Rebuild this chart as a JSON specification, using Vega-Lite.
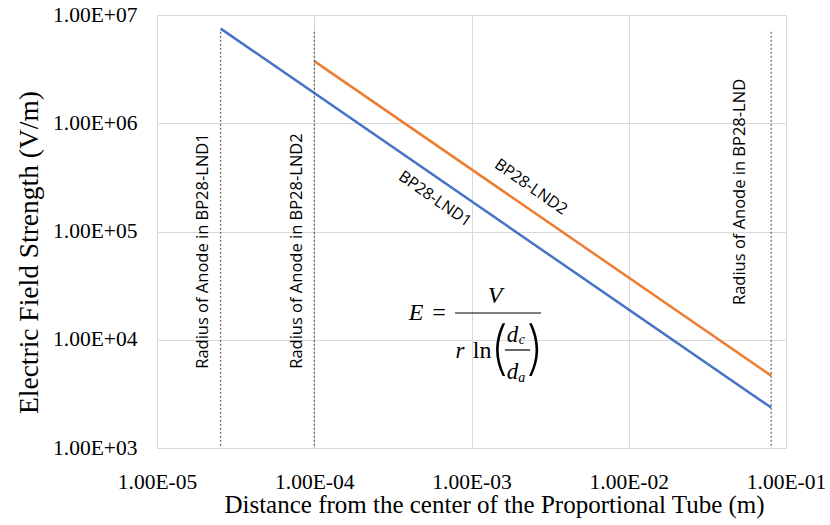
{
  "$schema": "https://vega.github.io/schema/vega-lite/v6.json",
  "width": 629,
  "height": 433,
  "autosize": "none",
  "padding": {"left": 157, "top": 15, "right": 44, "bottom": 77},
  "background": "white",
  "config": {"view": {"stroke": "#d9d9d9"}, "font": "Liberation Serif"},
  "layer": [
    {
      "data": {"values": [
        {"series": "BP28-LND1", "r": 2.54e-5, "E": 7480000},
        {"series": "BP28-LND1", "r": 0.0804, "E": 2363},
        {"series": "BP28-LND2", "r": 1e-4, "E": 3750000},
        {"series": "BP28-LND2", "r": 0.0804, "E": 4664}
      ]},
      "mark": {"type": "line", "strokeWidth": 2.5},
      "encoding": {
        "x": {"field": "r", "type": "quantitative",
          "scale": {"type": "log", "domain": [1e-5, 0.1], "nice": false},
          "axis": {"values": [1e-5, 1e-4, 1e-3, 1e-2, 1e-1],
            "labelExpr": "'1.00E' + (round(log(datum.value)/LN10) < 0 ? '-' : '+') + '0' + abs(round(log(datum.value)/LN10))",
            "title": "Distance from the center of the Proportional Tube (m)",
            "grid": true, "gridColor": "#d9d9d9", "ticks": false, "domain": false,
            "labelFont": "Liberation Serif", "labelFontSize": 21.5, "labelColor": "#000",
            "labelFlush": false, "labelOverlap": false, "labelPadding": 23,
            "titleFont": "Liberation Serif", "titleFontSize": 25, "titleFontWeight": "normal",
            "titleColor": "#000", "titlePadding": 0, "titleX": 337, "titleAlign": "center", "titleAnchor": null}},
        "y": {"field": "E", "type": "quantitative",
          "scale": {"type": "log", "domain": [1000, 10000000], "nice": false},
          "axis": {"values": [1000, 10000, 100000, 1000000, 10000000],
            "labelExpr": "'1.00E' + (round(log(datum.value)/LN10) < 0 ? '-' : '+') + '0' + abs(round(log(datum.value)/LN10))",
            "title": "Electric Field Strength (V/m)",
            "grid": true, "gridColor": "#d9d9d9", "ticks": false, "domain": false,
            "labelFont": "Liberation Serif", "labelFontSize": 21.5, "labelColor": "#000",
            "labelFlush": false, "labelOverlap": false, "labelPadding": 20,
            "titleFont": "Liberation Serif", "titleFontSize": 27.5, "titleFontWeight": "normal",
            "titleColor": "#000", "titlePadding": 9, "titleY": 237, "titleAlign": "center", "titleAnchor": null}},
        "color": {"field": "series", "type": "nominal",
          "scale": {"domain": ["BP28-LND1", "BP28-LND2"], "range": ["#4472C4", "#ED7D31"]},
          "legend": null}
      }
    },
    {
      "data": {"values": [
        {"r": 2.54e-5, "top": 7000000, "bottom": 1000},
        {"r": 1e-4, "top": 7000000, "bottom": 1000},
        {"r": 0.0804, "top": 7000000, "bottom": 1000}
      ]},
      "mark": {"type": "rule", "strokeDash": [2, 2], "color": "#404040", "strokeWidth": 1},
      "encoding": {
        "x": {"field": "r", "type": "quantitative"},
        "y": {"field": "top", "type": "quantitative"},
        "y2": {"field": "bottom"}
      }
    },
    {
      "data": {"values": [
        {"label": "Radius of Anode in BP28-LND1", "r": 1.96e-5, "E": 66000},
        {"label": "Radius of Anode in BP28-LND2", "r": 7.77e-5, "E": 66000},
        {"label": "Radius of Anode in BP28-LND", "r": 0.0509, "E": 232000}
      ]},
      "mark": {"type": "text", "angle": 270, "font": "Open Sans", "fontSize": 16.5, "color": "#000", "align": "center", "baseline": "middle"},
      "encoding": {
        "x": {"field": "r", "type": "quantitative"},
        "y": {"field": "E", "type": "quantitative"},
        "text": {"field": "label"}
      }
    },
    {
      "data": {"values": [
        {"label": "BP28-LND1", "r": 5.86e-4, "E": 200000},
        {"label": "BP28-LND2", "r": 2.39e-3, "E": 258000}
      ]},
      "mark": {"type": "text", "angle": 35, "font": "Open Sans", "fontSize": 16, "color": "#000", "align": "center", "baseline": "middle"},
      "encoding": {
        "x": {"field": "r", "type": "quantitative"},
        "y": {"field": "E", "type": "quantitative"},
        "text": {"field": "label"}
      }
    },
    {
      "data": {"values": [
        {"t": "E", "r": 4.44e-4, "E": 15200},
        {"t": "V", "r": 1.41e-3, "E": 21800}
      ]},
      "mark": {"type": "text", "font": "Liberation Serif", "fontStyle": "italic", "fontSize": 24, "color": "#000", "align": "center", "baseline": "alphabetic"},
      "encoding": {
        "x": {"field": "r", "type": "quantitative"},
        "y": {"field": "E", "type": "quantitative"},
        "text": {"field": "t"}
      }
    },
    {
      "data": {"values": [
        {"t": "r", "r": 8.45e-4, "E": 6780},
        {"t": "d", "r": 1.82e-3, "E": 9530},
        {"t": "d", "r": 1.82e-3, "E": 4340}
      ]},
      "mark": {"type": "text", "font": "Liberation Serif", "fontStyle": "italic", "fontSize": 23, "color": "#000", "align": "center", "baseline": "alphabetic"},
      "encoding": {
        "x": {"field": "r", "type": "quantitative"},
        "y": {"field": "E", "type": "quantitative"},
        "text": {"field": "t"}
      }
    },
    {
      "data": {"values": [
        {"t": "c", "r": 2.09e-3, "E": 9140},
        {"t": "a", "r": 2.09e-3, "E": 4070}
      ]},
      "mark": {"type": "text", "font": "Liberation Serif", "fontStyle": "italic", "fontSize": 14, "color": "#000", "align": "center", "baseline": "alphabetic"},
      "encoding": {
        "x": {"field": "r", "type": "quantitative"},
        "y": {"field": "E", "type": "quantitative"},
        "text": {"field": "t"}
      }
    },
    {
      "data": {"values": [
        {"t": "=", "r": 6.21e-4, "E": 15200},
        {"t": "ln", "r": 1.167e-3, "E": 6780}
      ]},
      "mark": {"type": "text", "font": "Liberation Serif", "fontSize": 24, "color": "#000", "align": "center", "baseline": "alphabetic"},
      "encoding": {
        "x": {"field": "r", "type": "quantitative"},
        "y": {"field": "E", "type": "quantitative"},
        "text": {"field": "t"}
      }
    },
    {
      "data": {"values": [
        {"t": "(", "r": 1.496e-3, "E": 7870},
        {"t": ")", "r": 2.54e-3, "E": 7870}
      ]},
      "mark": {"type": "text", "font": "Inter", "fontWeight": 200, "fontSize": 58, "color": "#000", "align": "center", "baseline": "middle"},
      "encoding": {
        "x": {"field": "r", "type": "quantitative"},
        "y": {"field": "E", "type": "quantitative"},
        "text": {"field": "t"}
      }
    },
    {
      "data": {"values": [
        {"r1": 7.85e-4, "r2": 2.77e-3, "E": 17660},
        {"r1": 1.63e-3, "r2": 2.36e-3, "E": 8040}
      ]},
      "mark": {"type": "rule", "color": "#000", "strokeWidth": 1.2},
      "encoding": {
        "x": {"field": "r1", "type": "quantitative"},
        "x2": {"field": "r2"},
        "y": {"field": "E", "type": "quantitative"}
      }
    }
  ]
}
